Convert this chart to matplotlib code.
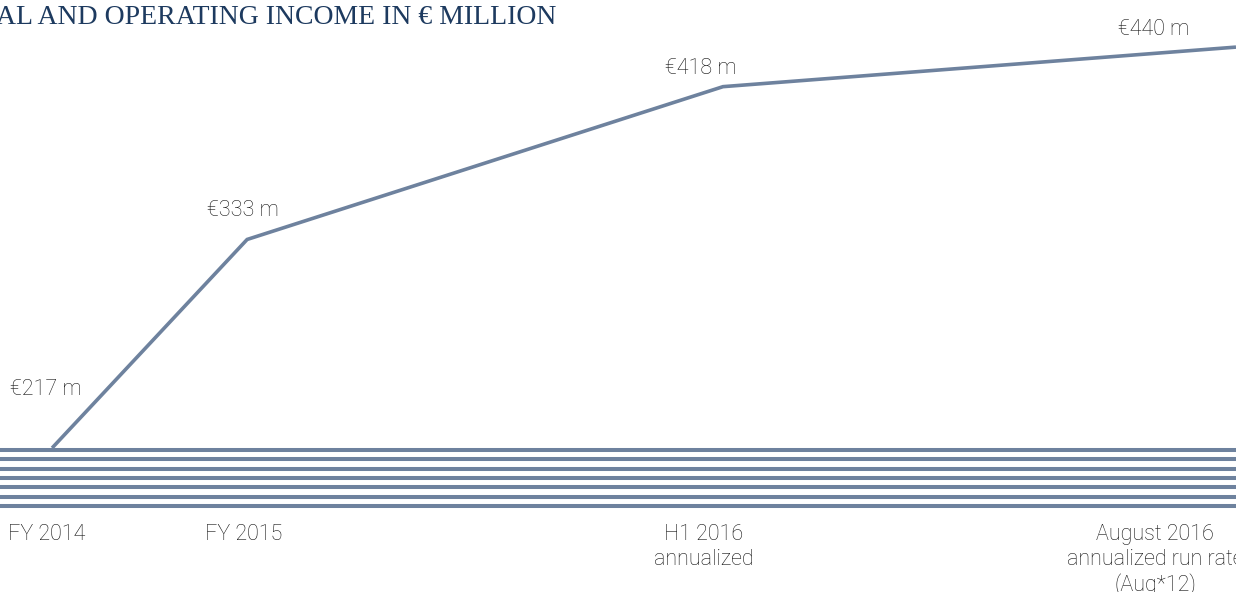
import matplotlib
import matplotlib.pyplot as plt
from matplotlib.transforms import blended_transform_factory

matplotlib.use("Agg")

# data
periods = ["FY 2014", "FY 2015", "H1 2016\nannualized", "August 2016\nannualized run rate\n(Aug*12)"]
period_pos = [0.0, 1.0, 3.44, 6.07]
income = [217, 333, 418, 440]
value_labels = ["€217 m", "€333 m", "€418 m", "€440 m"]
title = "AL AND OPERATING INCOME IN € MILLION"

# layout / style
LINE_COLOR = "#6e829e"
TITLE_COLOR = "#1d3a5f"
TEXT_COLOR = "#141414"
value_offsets = [(-6, 58), (-4, 29), (-22, 18), (-82, 18)]  # pixels from the point
period_offsets = [-5, -3, -19, -81]  # pixels, x shift of the period labels

fig = plt.figure(figsize=(12.36, 5.92), dpi=100)

# striped base
ax_s = fig.add_axes([0, 0.1373, 1, 0.1103])
ax_s.set_xlim(0, 1)
ax_s.set_ylim(-0.5, 6.5)
ax_s.hlines(range(7), 0, 1, color=LINE_COLOR, linewidth=2.9)
ax_s.axis("off")

ax = fig.add_axes([0, 0, 1, 1])
ax.patch.set_alpha(0)
ax.set_xlim(-0.267, 6.07)
ax.set_ylim(136.9, 466.2)
ax.axis("off")

ax.plot(period_pos, income, color=LINE_COLOR, linewidth=2.6,
        solid_joinstyle="miter", solid_capstyle="butt", zorder=3)

for x, v, lab, (dx, dy) in zip(period_pos, income, value_labels, value_offsets):
    ax.annotate(lab, xy=(x, v), xytext=(dx, dy), textcoords="offset pixels",
                ha="center", va="center", fontsize=15.5, color=TEXT_COLOR,
                family="Roboto", fontweight="light")

trans = blended_transform_factory(ax.transData, ax.transAxes)
for x, lab, dx in zip(period_pos, periods, period_offsets):
    ax.annotate(lab, xy=(x, 1 - 524 / 592), xycoords=trans, xytext=(dx, 0),
                textcoords="offset pixels", ha="center", va="top",
                fontsize=15.5, color=TEXT_COLOR, family="Roboto",
                fontweight="light", linespacing=1.22, annotation_clip=False)

fig.text(-0.003, 1 - 17 / 592, title, ha="left", va="center",
         fontsize=20, color=TITLE_COLOR, family="Liberation Serif")

fig.savefig("out.png", dpi=100)
